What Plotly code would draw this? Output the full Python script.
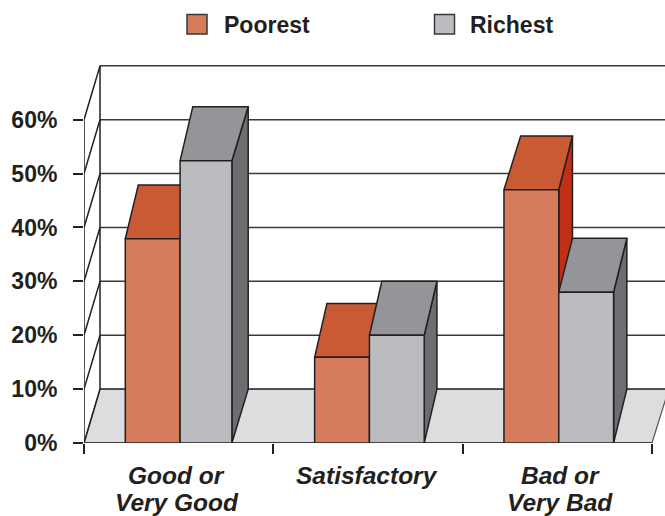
import plotly.graph_objects as go

# Survey results by household wealth, in percent
categories = ["Good or\nVery Good", "Satisfactory", "Bad or\nVery Bad"]
poorest = [37.9, 15.9, 47.0]
richest = [52.4, 20.0, 28.0]
pct_ticks = [0, 10, 20, 30, 40, 50, 60]
pct_labels = ["0%", "10%", "20%", "30%", "40%", "50%", "60%"]

WIDTH, HEIGHT = 665, 516
LEFT, TOP, BOTTOM = 84, 65, 73
PX_PER_GROUP = 189.33
PX_PER_PCT = 5.388

# Oblique projection: the back plane sits up and to the right of the front plane
WALL_DX = 16 / PX_PER_GROUP
DEPTH_PCT = 10

# Bar placement inside a group, in group units
POOR_LEFT, BAR_W = 41.3 / PX_PER_GROUP, 54.8 / PX_PER_GROUP
# Per-bar oblique shift of the rear edges (left, right) and front width trim, in group units
shift_poor = [(13, 13), (12.3, 12.3), (16.7, 13.7)]
shift_rich = [(12.7, 16.3), (12.4, 12.7), (13.7, 13.3)]
trim_rich = [3.0, 0, 0]

INK = "#231f20"
GRID = "#3a3839"
FLOOR = "#dcddde"
POOR = dict(front="#d67b5b", top="#c95a33", side="#c22f17")
RICH = dict(front="#bbbcc0", top="#939598", side="#6d6e71")
FONT = "Liberation Sans, Arial, sans-serif"
FONT_SIZE = 23

x_max = (WIDTH - LEFT) / PX_PER_GROUP
y_max = (HEIGHT - TOP - BOTTOM) / PX_PER_PCT
far_x = x_max + 0.02

fig = go.Figure()


def face(xs, ys, fill=None, width=1.5, color=INK):
    """Add a closed polygon, or an open polyline when no fill is given."""
    fig.add_trace(go.Scatter(
        x=xs, y=ys, mode="lines", line=dict(color=color, width=width),
        fill="toself" if fill else "none", fillcolor=fill,
        hoverinfo="skip", showlegend=False, cliponaxis=False,
    ))


# Floor, back wall rules and the left wall
face([0, WALL_DX, far_x, 3, 0], [0, DEPTH_PCT, DEPTH_PCT, 0, 0], fill=FLOOR, width=1.2, color="#55565a")
for tick in pct_ticks:
    face([WALL_DX, far_x], [tick + DEPTH_PCT] * 2, color=GRID)
    face([0, WALL_DX], [tick, tick + DEPTH_PCT])
face([WALL_DX, WALL_DX], [DEPTH_PCT, pct_ticks[-1] + DEPTH_PCT])
face([0, 0], [0, pct_ticks[-1]])
face([0, 3], [0, 0])


def bar(x0, x1, value, shift, colors):
    """Draw one oblique bar: side, top, then the front face."""
    back0, back1 = x0 + shift[0] / PX_PER_GROUP, x1 + shift[1] / PX_PER_GROUP
    top = value + DEPTH_PCT
    face([x1, back1, back1, x1, x1], [0, DEPTH_PCT, top, value, 0], fill=colors["side"])
    face([x0, back0, back1, x1, x0], [value, top, top, value, value], fill=colors["top"])
    face([x0, x1, x1, x0, x0], [0, 0, value, value, 0], fill=colors["front"])


for i in range(len(categories)):
    p0 = i + POOR_LEFT
    bar(p0, p0 + BAR_W, poorest[i], shift_poor[i], POOR)
    bar(p0 + BAR_W, p0 + 2 * BAR_W - trim_rich[i] / PX_PER_GROUP, richest[i], shift_rich[i], RICH)


def paper_x(px):
    return (px - LEFT) / (WIDTH - LEFT)


def paper_y(px):
    return (HEIGHT - BOTTOM - px) / (HEIGHT - TOP - BOTTOM)


# Key above the plot
shapes, annotations = [], []
for name, swatch_x, text_x, colors in [("Poorest", 187, 223, POOR), ("Richest", 434.5, 469, RICH)]:
    shapes.append(dict(
        type="rect", xref="paper", yref="paper", layer="above",
        x0=paper_x(swatch_x), x1=paper_x(swatch_x + 20), y0=paper_y(34), y1=paper_y(14.5),
        fillcolor=colors["front"], line=dict(color="#3a3839", width=1.5),
    ))
    annotations.append(dict(
        text=name, xref="paper", yref="paper", x=paper_x(text_x), y=paper_y(25),
        xanchor="left", yanchor="middle", showarrow=False, borderpad=0,
        font=dict(family=FONT, size=FONT_SIZE, color=INK, weight=700),
    ))

# Category names, one annotation per line so the leading stays tight
LABEL_CENTRES = [0.49, 1.495, 2.515]
for centre, label in zip(LABEL_CENTRES, categories):
    for row, line in enumerate(label.split("\n")):
        annotations.append(dict(
            text=line, xref="x", yref="paper", x=centre, y=paper_y(476 + 26.5 * row),
            xanchor="center", yanchor="middle", showarrow=False, borderpad=0,
            font=dict(family=FONT, size=24.5, color=INK, weight=700, style="italic"),
        ))

fig.update_layout(
    width=WIDTH, height=HEIGHT,
    margin=dict(l=LEFT, r=0, t=TOP, b=BOTTOM, pad=0),
    paper_bgcolor="white", plot_bgcolor="rgba(0,0,0,0)",
    showlegend=False, shapes=shapes, annotations=annotations,
    xaxis=dict(
        range=[0, x_max], tickmode="array", tickvals=[0, 1, 2, 3], ticktext=["", "", "", ""],
        ticks="outside", ticklen=10, tickwidth=1.5, tickcolor=INK,
        showgrid=False, zeroline=False, showline=False, fixedrange=True,
    ),
    yaxis=dict(
        range=[0, y_max], tickmode="array", tickvals=pct_ticks, ticktext=pct_labels,
        ticks="outside", ticklen=10, tickwidth=2, tickcolor=INK, ticklabelstandoff=11,
        tickfont=dict(family=FONT, size=FONT_SIZE, color=INK, weight=700),
        showgrid=False, zeroline=False, showline=False, fixedrange=True,
    ),
)

fig.write_html("out.html", config=dict(displayModeBar=False))
